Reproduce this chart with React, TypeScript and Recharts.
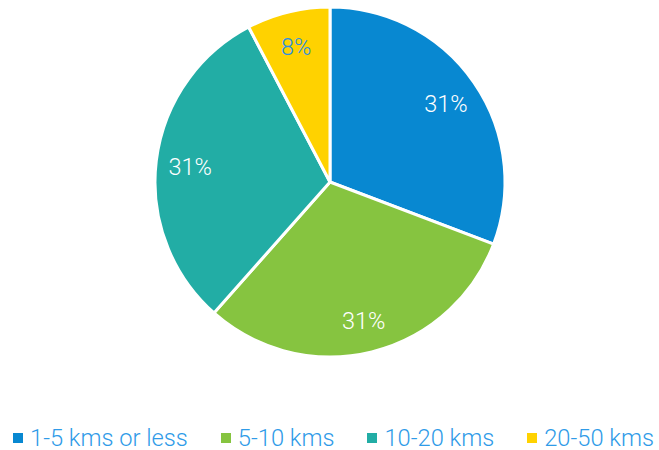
import React from 'react'
import { PieChart, Pie, Cell, Legend } from 'recharts'

const categories = ['1-5 kms or less', '5-10 kms', '10-20 kms', '20-50 kms']
const counts = [4, 4, 4, 1]
const colors = ['#0888d1', '#86c440', '#22ada5', '#ffd200']
const labelColors = ['#ffffff', '#ffffff', '#ffffff', '#2b8fe0']

const data = categories.map((name, i) => ({ name, value: counts[i] }))

const RAD = Math.PI / 180

function renderLabel(props: any) {
  const { cx, cy, midAngle, outerRadius, percent, index } = props
  const r = outerRadius * 0.805
  const x = cx + r * Math.cos(-midAngle * RAD)
  const y = cy + r * Math.sin(-midAngle * RAD) + 2
  return (
    <text
      x={x}
      y={y}
      fill={labelColors[index]}
      textAnchor="middle"
      dominantBaseline="central"
      style={{ fontFamily: 'Roboto', fontWeight: 300, fontSize: 23.5 }}
    >
      {`${Math.round(percent * 100)}%`}
    </text>
  )
}

function renderLegend() {
  return (
    <div
      style={{
        display: 'flex',
        justifyContent: 'center',
        gap: 33,
        paddingLeft: 8,
        fontFamily: 'Roboto',
        fontWeight: 300,
        fontSize: 23.7,
        lineHeight: '22px',
        color: '#2f9be8',
      }}
    >
      {categories.map((c, i) => (
        <div key={c} style={{ display: 'flex', alignItems: 'center' }}>
          <span style={{ width: 10, height: 10, background: colors[i], marginRight: 7, display: 'inline-block' }} />
          <span>{c}</span>
        </div>
      ))}
    </div>
  )
}

export default function App() {
  return (
    <div style={{ position: 'absolute', left: 0, top: 0, width: 659, height: 450, background: '#fff' }}>
      <PieChart width={659} height={450} margin={{ top: 0, right: 0, bottom: 0, left: 0 }}>
        <Pie
          data={data}
          dataKey="value"
          nameKey="name"
          cx={330}
          cy={182}
          outerRadius={175}
          startAngle={90}
          endAngle={-270}
          stroke="#ffffff"
          strokeWidth={3}
          label={renderLabel}
          labelLine={false}
          isAnimationActive={false}
        >
          {data.map((d, i) => (
            <Cell key={d.name} fill={colors[i]} />
          ))}
        </Pie>
        <Legend
          verticalAlign="bottom"
          content={renderLegend}
          wrapperStyle={{ bottom: 1, left: 0, width: 659 }}
        />
      </PieChart>
    </div>
  )
}
